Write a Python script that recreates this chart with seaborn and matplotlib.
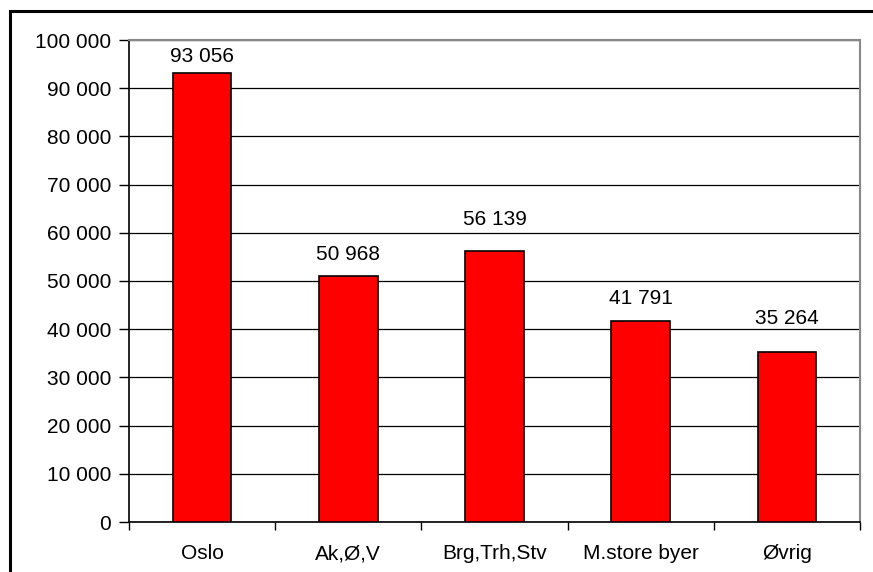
import seaborn as sns
import matplotlib.pyplot as plt
import pandas as pd
from matplotlib.patches import Rectangle
from matplotlib.ticker import FuncFormatter, FixedLocator

categories = ["Oslo", "Ak,Ø,V", "Brg,Trh,Stv", "M.store byer", "Øvrig"]
values = [93056, 50968, 56139, 41791, 35264]

# gap between bar top and label baseline, in points (as placed in the original)
label_gap = [8.4, 11.5, 19, 12, 20]

sns.set_theme(style="white")
plt.rcParams['font.family'] = ['Liberation Sans', 'DejaVu Sans']

data = pd.DataFrame({"area": categories, "value": values})

fig = plt.figure(figsize=(8.73, 5.72), dpi=100)
ax = fig.add_axes([129 / 873, 1 - 522 / 572, (860 - 129) / 873, (522 - 40) / 572])

sns.barplot(data=data, x="area", y="value", color="#ff0000", saturation=1,
            edgecolor="black", linewidth=1.2, width=0.4, ax=ax, zorder=3)

# value labels
for i, v in enumerate(values):
    ax.annotate(f"{v:,}".replace(",", " "), (i, v), xytext=(0, label_gap[i]),
                textcoords="offset points", ha="center", va="baseline",
                fontsize=15, color="black")

ax.set_ylim(0, 100000)
ax.set_xlim(-0.5, len(categories) - 0.5)
ax.set_yticks(range(0, 100001, 10000))
ax.yaxis.set_major_formatter(FuncFormatter(lambda y, _: f"{int(y):,}".replace(",", " ")))
ax.yaxis.grid(True, color="black", linewidth=0.9)
ax.set_axisbelow(True)

ax.xaxis.set_minor_locator(FixedLocator([i - 0.5 for i in range(len(categories) + 1)]))
ax.tick_params(axis="x", which="major", length=0, pad=16, labelsize=15, colors="black")
ax.tick_params(axis="x", which="minor", length=6, width=1, color="black", direction="out", bottom=True)
ax.tick_params(axis="y", length=7, width=1, color="black", direction="out", left=True,
               pad=6, labelsize=15, labelcolor="black")

ax.set_xlabel("")
ax.set_ylabel("")

for side in ["left", "bottom"]:
    ax.spines[side].set_color("black")
    ax.spines[side].set_linewidth(1.2)
for side in ["top", "right"]:
    ax.spines[side].set_visible(True)
    ax.spines[side].set_color("#888888")
    ax.spines[side].set_linewidth(1.5)

# chart frame (partly cut off at right and bottom)
fig.patches.append(Rectangle((9.5 / 873, -0.1), 1.2, 1 - 11 / 572 + 0.1,
                             transform=fig.transFigure, fill=False,
                             edgecolor="black", linewidth=2.2))

fig.savefig("out.png", dpi=100)
